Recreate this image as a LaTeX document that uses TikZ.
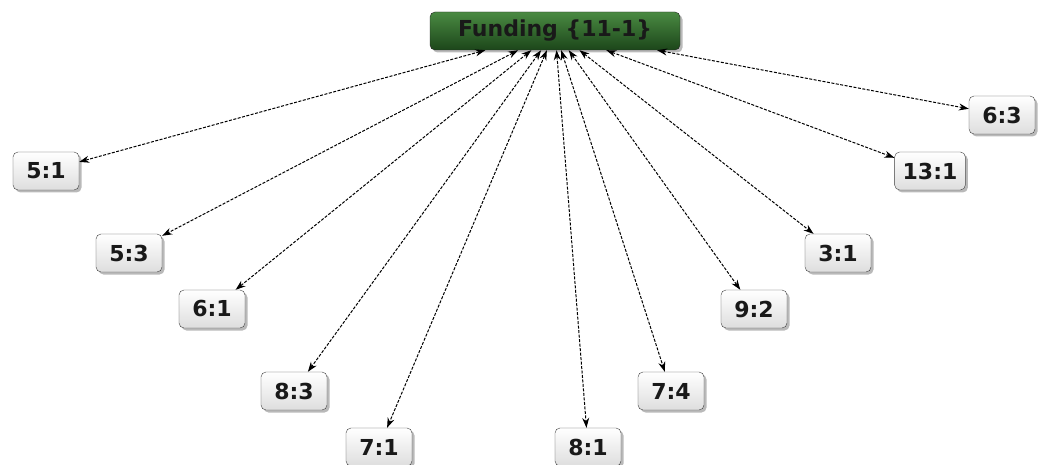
\documentclass[tikz,border=0pt]{standalone}
\usepackage{fontspec}
\setsansfont{DejaVu Sans}
\usepackage{tikz}
\usetikzlibrary{arrows.meta,shadows}

\definecolor{fundtop}{HTML}{4A8A42}
\definecolor{fundbot}{HTML}{1C461A}
\definecolor{boxedge}{HTML}{404040}

\begin{document}
\begin{tikzpicture}[x=1pt, y=-1pt]
  \tikzstyle{topic} = [rectangle, rounded corners=5pt, draw=black!85, top color=fundtop, bottom color=fundbot,
                       minimum width=250pt, minimum height=38pt, text=black!90,
                       font=\sffamily\bfseries\fontsize{22}{26}\selectfont,
                       drop shadow={shadow xshift=2.5pt, shadow yshift=-2.5pt, opacity=0.55}]
  \tikzstyle{item} = [rectangle, rounded corners=5pt, draw=boxedge, top color=white, bottom color=black!13,
                      minimum width=66pt, minimum height=38pt, inner xsep=8pt, text=black!90,
                      font=\sffamily\bfseries\fontsize{22}{26}\selectfont,
                      drop shadow={shadow xshift=2.5pt, shadow yshift=-2.5pt, opacity=0.55}]
  \tikzstyle{link} = [{Stealth[length=10pt,width=7pt]}-{Stealth[length=10pt,width=7pt]}, line width=1pt, dash pattern=on 3pt off 1.5pt]

  \useasboundingbox (0,0) rectangle (1038,465);

  \node[topic] (fund) at (555,31) {Funding \{11-1\}};

  \node[item] (a51) at (46,171) {5:1};
  \node[item] (a53) at (129,253) {5:3};
  \node[item] (a61) at (212,309) {6:1};
  \node[item] (a83) at (294,391) {8:3};
  \node[item] (a71) at (379,447) {7:1};
  \node[item] (a81) at (588,447) {8:1};
  \node[item] (a74) at (671,391) {7:4};
  \node[item] (a92) at (754,309) {9:2};
  \node[item] (a31) at (838,253) {3:1};
  \node[item] (a131) at (930,171) {13:1};
  \node[item] (a63) at (1002,115) {6:3};

  \draw[link] (fund) -- (a51);
  \draw[link] (fund) -- (a53);
  \draw[link] (fund) -- (a61);
  \draw[link] (fund) -- (a83);
  \draw[link] (fund) -- (a71);
  \draw[link] (fund) -- (a81);
  \draw[link] (fund) -- (a74);
  \draw[link] (fund) -- (a92);
  \draw[link] (fund) -- (a31);
  \draw[link] (fund) -- (a131);
  \draw[link] (fund) -- (a63);
\end{tikzpicture}
\end{document}
